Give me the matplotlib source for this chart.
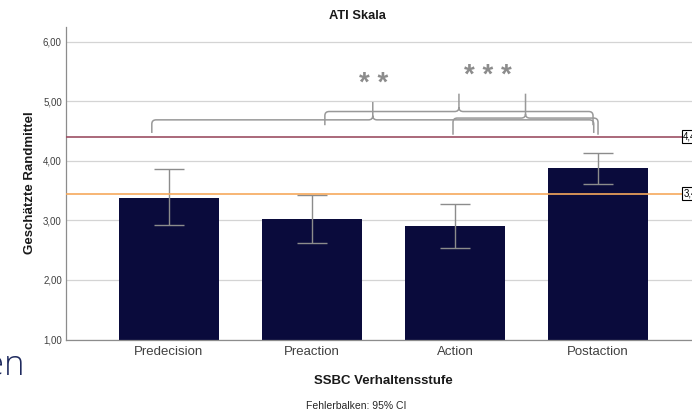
import matplotlib
matplotlib.use("Agg")
import matplotlib.pyplot as plt
from matplotlib.path import Path
from matplotlib.patches import PathPatch
import matplotlib.transforms as mtransforms

plt.rcParams['font.family'] = ['Liberation Sans', 'DejaVu Sans']

stages = ["Predecision", "Preaction", "Action", "Postaction"]
means = [3.38, 3.02, 2.90, 3.88]
ci_low = [2.92, 2.62, 2.53, 3.61]
ci_high = [3.87, 3.43, 3.27, 4.14]

ref_values = [4.41, 3.45]
ref_labels = ["4,41", "3,45"]
ref_colors = ["#9c4f63", "#f6a95c"]

# significance braces: (left, right, line height, tip height, foot height)
braces = [
    (-0.12, 2.97, 4.69, 4.99, 4.47),
    (1.09, 2.965, 4.83, 5.13, 4.60),
    (1.986, 3.0, 4.72, 5.13, 4.44),
]
stars = [("* *", 1.43, 5.30), ("* * *", 2.23, 5.43)]

fig = plt.figure(figsize=(6.92, 4.13), dpi=100)
ax = fig.add_axes([66 / 692, 73.5 / 413, 635 / 692, 312.5 / 413])

x = list(range(len(stages)))
yerr = [[m - lo for m, lo in zip(means, ci_low)],
        [hi - m for m, hi in zip(means, ci_high)]]

ax.set_axisbelow(True)
ax.yaxis.grid(True, color="#d4d4d4", linewidth=0.9)
ax.bar(x, [m - 1 for m in means], bottom=1, width=0.7, color="#0a0b3c", zorder=2)
ax.errorbar(x, means, yerr=yerr, fmt="none", ecolor="#8c8c8c",
            elinewidth=1.0, capsize=11, capthick=1.0, zorder=3)

for val, col in zip(ref_values, ref_colors):
    ax.axhline(val, color=col, linewidth=1.2, zorder=4)

trans = mtransforms.blended_transform_factory(ax.transAxes, ax.transData)
for val, lab in zip(ref_values, ref_labels):
    ax.text(0.972, val, lab, transform=trans, fontsize=7, va="center",
            ha="left", zorder=5,
            bbox=dict(boxstyle="square,pad=0.15", fc="white", ec="black", lw=0.8))


def draw_brace(x0, x1, y, tip, foot, dx=0.03, dy=0.07):
    xm = (x0 + x1) / 2
    verts = [
        (x0, foot), (x0, y - dy), (x0, y), (x0 + dx, y),
        (xm - dx, y), (xm, y), (xm, y + dy), (xm, tip),
        (xm, y + dy), (xm, y), (xm + dx, y),
        (x1 - dx, y), (x1, y), (x1, y - dy), (x1, foot),
    ]
    codes = [
        Path.MOVETO, Path.LINETO, Path.CURVE3, Path.CURVE3,
        Path.LINETO, Path.CURVE3, Path.CURVE3, Path.LINETO,
        Path.MOVETO, Path.CURVE3, Path.CURVE3,
        Path.LINETO, Path.CURVE3, Path.CURVE3, Path.LINETO,
    ]
    ax.add_patch(PathPatch(Path(verts, codes), fill=False, edgecolor="#999999",
                           linewidth=1.1, zorder=4, clip_on=False))


for b in braces:
    draw_brace(*b)

for txt, sx, sy in stars:
    ax.text(sx, sy, txt, ha="center", va="center", fontsize=20,
            fontweight="bold", color="#8c8c8c", zorder=5)

ax.set_xlim(-0.72, 3.72)
ax.set_ylim(1, 6.25)
ax.set_xticks(x)
ax.set_xticklabels(stages, fontsize=9.5, color="#404040")
ax.set_yticks([1, 2, 3, 4, 5, 6])
ax.set_yticklabels(["1,00", "2,00", "3,00", "4,00", "5,00", "6,00"],
                   fontsize=7, color="#404040")
ax.tick_params(axis="both", length=0)
ax.tick_params(axis="x", pad=5)
ax.tick_params(axis="y", pad=3)

for side in ["top", "right"]:
    ax.spines[side].set_visible(False)
for side in ["left", "bottom"]:
    ax.spines[side].set_color("#8c8c8c")
    ax.spines[side].set_linewidth(0.9)

fig.text(357 / 692, 1 - 16 / 413, "ATI Skala", ha="center", va="center",
         fontsize=9.3, fontweight="bold", color="#1a1a1a")
fig.text(30 / 692, 1 - 183 / 413, "Geschätzte Randmittel", ha="center",
         va="center", rotation=90, fontsize=9.5, fontweight="bold",
         color="#1a1a1a")
fig.text(383 / 692, 1 - 381 / 413, "SSBC Verhaltensstufe", ha="center",
         va="center", fontsize=9.5, fontweight="bold", color="#1a1a1a")
fig.text(356 / 692, 1 - 406 / 413, "Fehlerbalken: 95% CI", ha="center",
         va="center", fontsize=7.5, color="#262626")
fig.text(-15 / 692, 1 - 366 / 413, "en", ha="left", va="center",
         fontsize=25, color="#1f2a5e", family=["Open Sans", "DejaVu Sans"],
         fontweight="light")

fig.savefig("out.png", dpi=100)
